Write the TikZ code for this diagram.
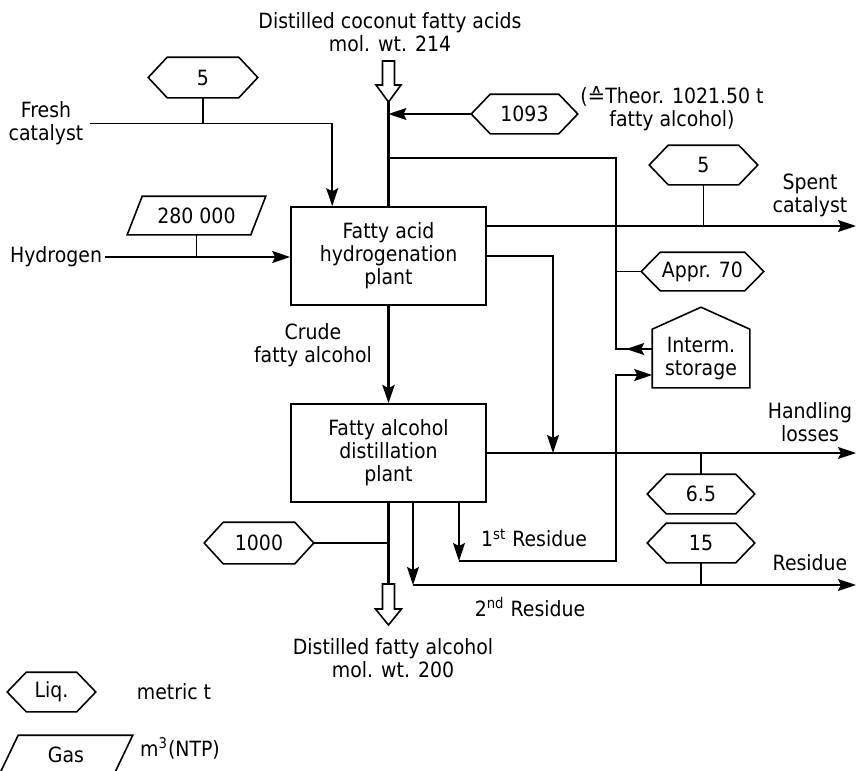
\documentclass[tikz,border=0pt]{standalone}
\usepackage{fontspec}
\setmainfont{DejaVu Sans}[FakeStretch=0.9]
\newfontfamily\dejavu{DejaVu Sans}
\usetikzlibrary{arrows.meta,calc}
\begin{document}
\begin{tikzpicture}[x=0.5pt,y=-0.5pt,line width=0.8pt,
  every node/.style={font=\fontsize{10.5}{11.5}\selectfont},
  tip/.style={-{Stealth[length=9pt,width=6pt,inset=1.5pt]}},
  heavy/.style={line width=1.7pt},
  txt/.style={align=center,inner sep=1pt},
  plantbox/.style={draw,align=center,inner sep=2pt,minimum width=97.5pt,minimum height=49pt},
  hexnode/.style 2 args={inner sep=0pt,minimum width=#1,minimum height=#2},
  hollow/.style={draw,fill=white,line width=0.8pt}]
\useasboundingbox (0,0) rectangle (857,771);

% ---------- texts ----------
\node[txt] (topt) at (390,32) {Distilled coconut fatty acids\\mol. wt. 214};
\node[txt] (fresh) at (46,123.5) {Fresh\\catalyst};
\node[txt] (hyd) at (56,257) {Hydrogen};
\node[txt] (theor) at (672,109) {({\dejavu ≙}Theor. 1021.50 t\\fatty alcohol)};
\node[txt] (spent) at (810,195) {Spent\\catalyst};
\node[txt] (crude) at (313,345.5) {Crude\\fatty alcohol};
\node[txt] (handl) at (810,422) {Handling\\losses};
\node[txt] (resid) at (810,563) {Residue};
\node[txt] (res1) at (534,538) {1\textsuperscript{st} Residue};
\node[txt] (res2) at (530,607) {2\textsuperscript{nd} Residue};
\node[txt] (bott) at (393,658) {Distilled fatty alcohol\\mol. wt. 200};
\node[txt] (metric) at (174,692) {metric t};
\node[txt] (ntp) at (180,748) {m\textsuperscript{3}(NTP)};

% ---------- plants ----------
\node[plantbox] (box1) at (388.5,256) {Fatty acid\\hydrogenation\\plant};
\node[plantbox] (box2) at (388.5,453) {Fatty alcohol\\distillation\\plant};

% ---------- quantity hexagons ----------
\node[hexnode={54pt}{19.5pt}] (hF) at (203,77.5) {5};
\node[hexnode={52.5pt}{19pt}] (h1093) at (524.5,114) {1093};
\node[hexnode={53.5pt}{19pt}] (hS) at (703.5,165) {5};
\node[hexnode={60.5pt}{18.5pt}] (appr) at (702.5,271.5) {Appr. 70};
\node[hexnode={53pt}{19pt}] (h65) at (701,494) {6.5};
\node[hexnode={53pt}{19pt}] (h15) at (701,543) {15};
\node[hexnode={54pt}{20pt}] (h1000) at (259,543) {1000};
\node[hexnode={43.5pt}{19pt}] (hL) at (51.5,692) {Liq.};
\foreach \n in {hF,h1093,hS,appr,h65,h15,h1000,hL}
  \draw (\n.west) -- ($(\n.north west)+(19,0)$) -- ($(\n.north east)+(-19,0)$)
        -- (\n.east) -- ($(\n.south east)+(-19,0)$) -- ($(\n.south west)+(19,0)$) -- cycle;

% ---------- gas parallelograms ----------
\node[hexnode={68.5pt}{18.5pt}] (p280) at (196.5,215.5) {280 000};
\node[hexnode={66pt}{19pt}] (pG) at (66,755) {Gas};
\draw (p280.south west) -- ($(p280.north west)+(15,0)$) -- (p280.north east)
      -- ($(p280.south east)+(-15,0)$) -- cycle;
\draw (pG.south west) -- ($(pG.north west)+(19,0)$) -- (pG.north east)
      -- ($(pG.south east)+(-19,0)$) -- cycle;

% ---------- intermediate storage ----------
\node[inner sep=0pt,minimum width=48pt,minimum height=28.5pt,align=center] (stor) at (701,358.5) {Interm.\\storage};
\draw (stor.north west) -- ($(stor.north)+(0,-22)$) -- (stor.north east)
      -- (stor.south east) -- (stor.south west) -- cycle;

% ---------- coordinates ----------
\coordinate (tipTop) at (388.5,102);
\coordinate (j1) at (388.5,158);
\coordinate (xr) at (616,158);
\coordinate (eSpent) at (856,226);
\coordinate (jH) at (553,453);
\coordinate (eHand) at (856,453);
\coordinate (r1) at (459,561);
\coordinate (r2) at (413,585);
\coordinate (eRes) at (856,585);
\coordinate (botTop) at (388.5,584);
\coordinate (s1) at ($(stor.west)+(0,-9.5)$);
\coordinate (s2) at ($(stor.west)+(0,16.5)$);

% ---------- hollow arrows ----------
\draw[hollow] ($(tipTop)+(-6,-41)$) -- ($(tipTop)+(6,-41)$) -- ($(tipTop)+(6,-17)$)
  -- ($(tipTop)+(12.5,-17)$) -- (tipTop) -- ($(tipTop)+(-12.5,-17)$)
  -- ($(tipTop)+(-6,-17)$) -- cycle;
\draw[hollow] (botTop) -- ($(botTop)+(6,0)$) -- ($(botTop)+(6,25)$)
  -- ($(botTop)+(13,25)$) -- ($(botTop)+(0,41)$) -- ($(botTop)+(-13,25)$)
  -- ($(botTop)+(-6,25)$) -- ($(botTop)+(-6,0)$) -- cycle;

% ---------- main stream ----------
\draw[heavy] (tipTop) -- (box1.north);
\draw[heavy,tip] (box1.south) -- (box2.north);
\draw[heavy] (box2.south) -- (botTop);

% ---------- feeds ----------
\draw[tip] ($(fresh.east)+(4,0)$) -| ($(box1.north west)+(42,0)$);
\draw (hF.south) -- (hF.south |- fresh.east);
\draw[tip] (hyd.east) -- (box1.west |- hyd.east);
\draw (p280.south) -- (p280.south |- hyd.east);
\draw[tip] (h1093.west) -- (h1093.west -| tipTop);

% ---------- recycle from storage ----------
\draw (s1) -- (xr |- s1) -- (xr) -- (j1);
\draw[tip] (s1) -- ($(s1)+(-26,0)$);
\draw (appr.west) -- (xr |- appr.west);

% ---------- outputs ----------
\draw[tip] ($(box1.east)+(0,-30)$) -- (eSpent);
\draw (hS.south) -- (hS.south |- eSpent);
\draw[tip] (box1.east) -| (jH);
\draw[tip] (box2.east) -- (eHand);
\draw (h65.north) -- (h65.north |- eHand);
\draw[tip] (box2.south -| r1) -- (r1);
\draw[tip] (r1) -- (xr |- r1) |- (s2);
\draw[tip] (box2.south -| r2) -- (r2);
\draw[tip] (r2) -- (eRes);
\draw (h15.south) -- (h15.south |- eRes);
\draw (h1000.east) -- (h1000.east -| box2.south);
\end{tikzpicture}
\end{document}
